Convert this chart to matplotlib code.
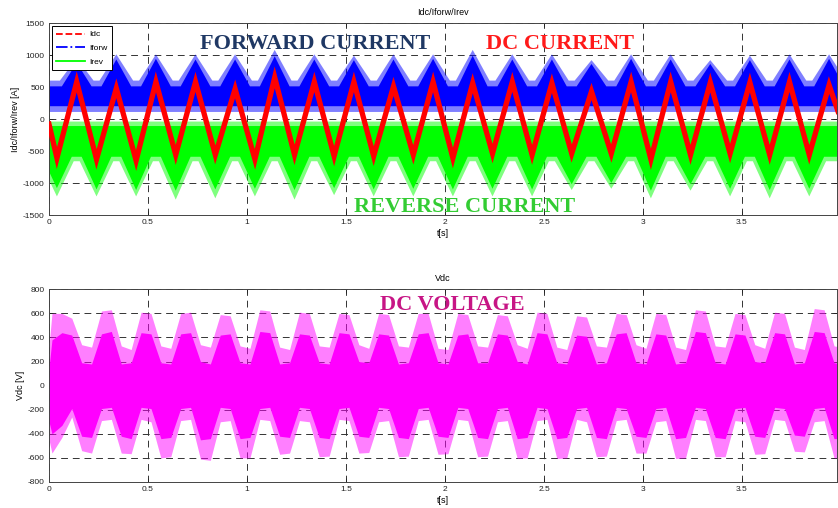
import numpy as np
import matplotlib
matplotlib.use("Agg")
import matplotlib.pyplot as plt
from matplotlib.lines import Line2D

# ---------------- data ----------------
# DC current: triangle vertices (troughs / peaks)
idc_t = [0.0, 0.04, 0.14, 0.24, 0.34, 0.44, 0.54, 0.64, 0.74, 0.84, 0.94,
         1.04, 1.14, 1.24, 1.34, 1.44, 1.54, 1.64, 1.74, 1.84, 1.94,
         2.04, 2.14, 2.24, 2.34, 2.44, 2.54, 2.64, 2.74, 2.84, 2.94,
         3.04, 3.14, 3.24, 3.34, 3.44, 3.54, 3.64, 3.74, 3.84, 3.94, 3.985]
idc = [-80, -610, 580, -630, 480, -650, 580, -560, 580, -560, 470,
       -630, 650, -560, 580, -580, 580, -580, 510, -560, 580,
       -610, 560, -540, 580, -560, 560, -540, 430, -540, 580,
       -630, 580, -560, 570, -540, 570, -560, 580, -560, 530, 120]

# Forward current: noisy band with triangular peaks at the Idc peaks
peak_t = [0.14, 0.34, 0.54, 0.74, 0.94, 1.14, 1.34, 1.54, 1.74, 1.94,
          2.14, 2.34, 2.54, 2.74, 2.94, 3.14, 3.34, 3.54, 3.74, 3.94]
iforw_peak_outer = [950, 1010, 1010, 1010, 1010, 1080, 1010, 990, 1010, 1010,
                    1080, 1010, 1010, 920, 1010, 1010, 920, 990, 1010, 1010]
iforw_peak_core = [880, 930, 940, 930, 930, 980, 930, 920, 930, 940,
                   990, 930, 930, 860, 940, 930, 860, 920, 930, 940]
iforw_band_outer = [110, 600]
iforw_band_core = [200, 510]

# Reverse current: noisy band with triangular dips at the Idc troughs
dip_t = [0.04, 0.24, 0.44, 0.64, 0.84, 1.04, 1.24, 1.44, 1.64, 1.84,
         2.04, 2.24, 2.44, 2.64, 2.84, 3.04, 3.24, 3.44, 3.64, 3.84]
irev_dip_outer = [-1210, -1210, -1210, -1260, -1240, -1210, -1260, -1190, -1210, -1210,
                  -1210, -1210, -1210, -1110, -1090, -1240, -1120, -1210, -1240, -1210]
irev_dip_core = [-1080, -1100, -1110, -1120, -1100, -1090, -1110, -1080, -1100, -1090,
                 -1100, -1090, -1100, -1020, -1000, -1120, -1020, -1090, -1110, -1090]
irev_band_outer = [-40, -660]
irev_band_core = [-110, -590]

# DC voltage envelopes (sample times every 0.05 s)
vdc_t = [0.0] + [round(0.015 + 0.05 * j, 3) for j in range(80)] + [4.0]
vdc_hi = [330, 600,
          600, 560, 340, 320,
          620, 630, 330, 300,
          610, 600, 330, 310,
          600, 610, 340, 320,
          590, 580, 330, 310,
          630, 620, 320, 300,
          610, 600, 330, 320,
          600, 590, 340, 310,
          600, 590, 330, 320,
          600, 600, 310, 300,
          600, 590, 330, 320,
          590, 580, 340, 310,
          610, 600, 320, 300,
          580, 570, 330, 320,
          600, 590, 340, 310,
          600, 590, 320, 300,
          630, 620, 330, 320,
          600, 590, 340, 310,
          610, 600, 320, 300,
          640, 630, 330,
          320]
vdc_lo = [-450, -560,
          -430, -260, -540, -560,
          -290, -280, -560, -565,
          -280, -300, -600, -590,
          -290, -280, -610, -620,
          -300, -290, -600, -600,
          -280, -290, -570, -560,
          -290, -300, -590, -585,
          -280, -290, -560, -555,
          -300, -290, -590, -585,
          -290, -280, -570, -565,
          -280, -290, -590, -585,
          -300, -290, -605, -600,
          -290, -280, -605, -600,
          -280, -300, -590, -585,
          -290, -280, -560, -560,
          -300, -290, -605, -600,
          -280, -290, -590, -590,
          -290, -300, -570, -565,
          -280, -290, -545, -550,
          -300, -290, -600,
          -600]
vdc_core_hi = [150, 380,
               440, 420, 190, 180,
               430, 450, 180, 190,
               440, 430, 190, 180,
               430, 440, 200, 180,
               420, 430, 190, 180,
               450, 440, 180, 190,
               430, 420, 190, 180,
               440, 430, 200, 190,
               430, 420, 180, 190,
               430, 440, 190, 180,
               420, 430, 190, 190,
               430, 420, 200, 180,
               440, 430, 190, 180,
               420, 410, 180, 190,
               430, 440, 190, 180,
               430, 420, 180, 190,
               450, 440, 190, 180,
               430, 420, 200, 190,
               440, 430, 180, 190,
               450, 440, 190,
               180]
vdc_core_lo = [-300, -400,
               -330, -190, -420, -430,
               -190, -180, -420, -440,
               -180, -190, -440, -430,
               -190, -180, -450, -440,
               -180, -190, -440, -430,
               -190, -180, -420, -430,
               -180, -190, -430, -440,
               -190, -180, -420, -430,
               -180, -190, -430, -440,
               -190, -180, -420, -430,
               -180, -190, -430, -440,
               -190, -180, -440, -430,
               -180, -190, -440, -430,
               -190, -180, -430, -440,
               -180, -190, -420, -430,
               -190, -180, -440, -430,
               -180, -190, -430, -440,
               -190, -180, -420, -430,
               -180, -190, -410, -420,
               -190, -180, -440,
               -440]

xticks = [0, 0.5, 1, 1.5, 2, 2.5, 3, 3.5]
xtick_labels = ["0", "0.5", "1", "1.5", "2", "2.5", "3", "3.5"]
yticks_top = [-1500, -1000, -500, 0, 500, 1000, 1500]
yticks_bot = [-800, -600, -400, -200, 0, 200, 400, 600, 800]

# ---------------- drawing ----------------
plt.rcParams['font.family'] = ['Liberation Sans', 'DejaVu Sans']

fig = plt.figure(figsize=(8.38, 5.08), dpi=100)
W, H = 838, 508
ax1 = fig.add_axes([49 / W, 1 - 215 / H, 788 / W, 192 / H])
ax2 = fig.add_axes([49 / W, 1 - 482 / H, 788 / W, 192.7 / H])

BLUE = '#0000FF'
GREEN = '#00FF00'
RED = '#FF0000'
MAG = '#FF00FF'


def tri_env(centers, vals, base, half):
    xs, ys = [-0.3], [base]
    for c, v in zip(centers, vals):
        xs += [c - half, c, c + half]
        ys += [base, v, base]
    xs.append(4.3)
    ys.append(base)
    return xs, ys


def style(ax, yticks, ylim):
    ax.set_xlim(0, 3.98)
    ax.set_ylim(*ylim)
    ax.set_xticks(xticks)
    ax.set_xticklabels(xtick_labels)
    ax.set_yticks(yticks)
    ax.set_yticklabels([str(v) for v in yticks])
    ax.tick_params(direction='in', length=3, width=0.6, labelsize=6,
                   top=True, right=True, pad=3, colors='#222222')
    ax.set_axisbelow(True)
    ax.grid(True, color='#333333', linestyle=(0, (7, 5)), linewidth=0.7)
    for s in ax.spines.values():
        s.set_linewidth(0.7)
        s.set_color('#444444')
    ax.set_xlabel('t[s]', fontsize=6.5, labelpad=2)


# --- top panel: currents ---
xs, ys = tri_env(peak_t, iforw_peak_outer, iforw_band_outer[1], 0.085)
ax1.fill_between(xs, iforw_band_outer[0], ys, color=BLUE, alpha=0.5, lw=0, zorder=2)
xs, ys = tri_env(peak_t, iforw_peak_core, iforw_band_core[1], 0.075)
ax1.fill_between(xs, iforw_band_core[0], ys, color=BLUE, lw=0, zorder=2.1)

xs, ys = tri_env(dip_t, irev_dip_outer, irev_band_outer[1], 0.085)
ax1.fill_between(xs, irev_band_outer[0], ys, color=GREEN, alpha=0.5, lw=0, zorder=2)
xs, ys = tri_env(dip_t, irev_dip_core, irev_band_core[1], 0.075)
ax1.fill_between(xs, irev_band_core[0], ys, color=GREEN, lw=0, zorder=2.1)

ax1.plot(idc_t, idc, color=RED, lw=3.8, zorder=3, solid_joinstyle='miter')

style(ax1, yticks_top, (-1500, 1500))
ax1.set_ylabel('Idc/Iforw/Irev [A]', fontsize=6.5, labelpad=2)
ax1.set_title('Idc/Iforw/Irev', fontsize=6.5, pad=6)

handles = [Line2D([], [], color=RED, ls='--', lw=1.3),
           Line2D([], [], color=BLUE, ls='-.', lw=1.3),
           Line2D([], [], color=GREEN, ls='-', lw=1.3)]
leg = ax1.legend(handles, ['Idc', 'Iforw', 'Irev'], loc='upper left',
                 bbox_to_anchor=(0.004, 0.982), fontsize=6, fancybox=False,
                 framealpha=1, edgecolor='black', borderpad=0.5,
                 handlelength=3.4, handletextpad=0.6, labelspacing=0.7,
                 borderaxespad=0)
leg.get_frame().set_linewidth(0.7)
leg.set_zorder(10)

serif = ['Liberation Serif', 'DejaVu Serif']
ax1.text(1.343, 1176, 'FORWARD CURRENT', color='#1F3864', fontsize=16,
         fontweight='bold', family=serif, ha='center', va='center', zorder=11)
ax1.text(2.58, 1176, 'DC CURRENT', color='#FF1A1A', fontsize=16,
         fontweight='bold', family=serif, ha='center', va='center', zorder=11)
ax1.text(2.10, -1380, 'REVERSE CURRENT', color='#33CC33', fontsize=16,
         fontweight='bold', family=serif, ha='center', va='center', zorder=11,
         clip_on=False)

# --- bottom panel: Vdc ---
ax2.fill_between(vdc_t, vdc_lo, vdc_hi, color=MAG, alpha=0.5, lw=0, zorder=2)
ax2.fill_between(vdc_t, vdc_core_lo, vdc_core_hi, color=MAG, lw=0, zorder=2.1)
style(ax2, yticks_bot, (-800, 800))
ax2.set_ylabel('Vdc [V]', fontsize=6.5, labelpad=2)
ax2.set_title('Vdc', fontsize=6.5, pad=6)
ax2.text(2.035, 670, 'DC VOLTAGE', color='#C71585', fontsize=16,
         fontweight='bold', family=serif, ha='center', va='center', zorder=11)

fig.savefig('out.png', dpi=100)
